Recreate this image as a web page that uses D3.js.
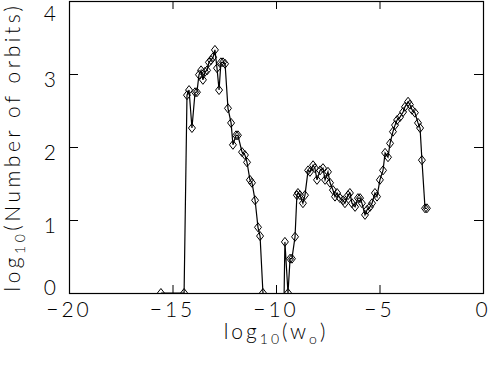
<!DOCTYPE html>
<html>
<head>
<meta charset="utf-8">
<script src="https://cdn.jsdelivr.net/npm/d3@7"></script>
<style>
body { margin: 0; background: #fff; }
text { font-family: Lato, "Liberation Sans", sans-serif; font-weight: 300; fill: #000; }
</style>
</head>
<body>
<svg id="chart" width="491" height="366"></svg>
<script>
// log10(w_o) bin positions
const logW = [-15.56, -14.44, -14.30, -14.20, -14.06, -13.91, -13.82, -13.72, -13.62, -13.53,
  -13.43, -13.33, -13.24, -13.14, -13.04, -12.95, -12.85, -12.75, -12.66, -12.56,
  -12.46, -12.32, -12.17, -12.08, -11.93, -11.84, -11.64, -11.50, -11.40, -11.26,
  -11.16, -11.01, -10.87, -10.77, -10.63, -9.66, -9.57, -9.42, -9.32, -9.23,
  -9.08, -8.99, -8.94, -8.84, -8.70, -8.60, -8.45, -8.36, -8.21, -8.12,
  -8.02, -7.87, -7.73, -7.63, -7.49, -7.39, -7.25, -7.15, -7.05, -6.91,
  -6.76, -6.67, -6.52, -6.43, -6.33, -6.18, -6.04, -5.94, -5.85, -5.70,
  -5.60, -5.46, -5.36, -5.22, -5.12, -4.98, -4.83, -4.73, -4.59, -4.49,
  -4.35, -4.25, -4.15, -4.01, -3.86, -3.77, -3.62, -3.53, -3.43, -3.29,
  -3.14, -3.04, -2.95, -2.80, -2.71]

// log10(number of orbits); null = empty bin (log of zero)
const logN = [0, 0, 2.71, 2.78, 2.26, 2.75, 2.75, 2.99, 3.05, 2.92,
  3.03, 3.05, 3.16, 3.19, 3.23, 3.33, 3.08, 2.78, 3.16, 3.16,
  3.14, 2.53, 2.33, 2.03, 2.16, 2.16, 1.93, 1.89, 1.79, 1.55,
  1.51, 1.27, 0.90, 0.78, 0, null, 0.70, 0, 0.47, 0.47,
  0.77, 1.34, 1.37, 1.34, 1.23, 1.34, 1.68, 1.66, 1.75, 1.71,
  1.55, 1.68, 1.71, 1.55, 1.66, 1.51, 1.41, 1.32, 1.37, 1.30,
  1.27, 1.23, 1.34, 1.37, 1.23, 1.18, 1.30, 1.30, 1.23, 1.07,
  1.14, 1.18, 1.23, 1.37, 1.32, 1.55, 1.68, 1.92, 1.86, 2.05,
  2.21, 2.30, 2.37, 2.41, 2.48, 2.55, 2.62, 2.58, 2.51, 2.47,
  2.33, 2.26, 1.82, 1.16, 1.16]

const xTicks = [-20, -15, -10, -5, 0]
const yTicks = [0, 1, 2, 3, 4]

let svg = d3.select("#chart")
let plot = { left: 69, right: 483, top: 1, bottom: 293 }

let x = d3.scaleLinear().domain([-20, 0]).range([plot.left, plot.right])
let y = d3.scaleLinear().domain([0, 4]).range([plot.bottom, plot.top])

let points = logW.map((w, i) => ({ w: w, n: logN[i] }))

svg.append("defs").append("clipPath")
    .attr("id", "clip")
  .append("rect")
    .attr("x", plot.left)
    .attr("y", plot.top)
    .attr("width", plot.right - plot.left)
    .attr("height", plot.bottom - plot.top)

let fmt = d => d3.format("d")(d)

// bottom / top axes
let gx = svg.append("g").attr("transform", "translate(0," + plot.bottom + ")")
gx.call(d3.axisBottom(x).tickValues(d3.range(-20, 1)).tickSize(-4).tickFormat(""))
gx.call(d3.axisBottom(x).tickValues(xTicks).tickSize(-8).tickFormat(""))
let gxt = svg.append("g").attr("transform", "translate(0," + plot.top + ")")
gxt.call(d3.axisTop(x).tickValues(d3.range(-20, 1)).tickSize(-4).tickFormat(""))
gxt.call(d3.axisTop(x).tickValues(xTicks).tickSize(-8).tickFormat(""))

// left / right axes
let gy = svg.append("g").attr("transform", "translate(" + plot.left + ",0)")
gy.call(d3.axisLeft(y).tickValues(d3.range(0, 40.5).map(d => d / 10)).tickSize(-5).tickFormat(""))
gy.call(d3.axisLeft(y).tickValues(yTicks).tickSize(-9).tickFormat(""))
let gyr = svg.append("g").attr("transform", "translate(" + plot.right + ",0)")
gyr.call(d3.axisRight(y).tickValues(d3.range(0, 40.5).map(d => d / 10)).tickSize(-5).tickFormat(""))
gyr.call(d3.axisRight(y).tickValues(yTicks).tickSize(-9).tickFormat(""))

svg.selectAll(".domain").remove()
svg.selectAll(".tick line").attr("stroke", "#000").attr("stroke-width", 1)

svg.append("rect")
    .attr("x", plot.left + 0.5)
    .attr("y", plot.top + 0.5)
    .attr("width", plot.right - plot.left)
    .attr("height", plot.bottom - plot.top)
    .attr("fill", "none")
    .attr("stroke", "#000")
    .attr("stroke-width", 1.2)

// tick labels
svg.append("g").selectAll("text")
    .data(xTicks)
    .enter().append("text")
    .attr("x", d => x(d))
    .attr("y", 317)
    .attr("text-anchor", "middle")
    .style("font-size", "21px")
    .style("letter-spacing", "3px")
    .text(fmt)

svg.append("g").selectAll("text")
    .data(yTicks)
    .enter().append("text")
    .attr("x", 56)
    .attr("y", d => Math.min(Math.max(y(d) + 5, 13), 287))
    .attr("dy", "0.36em")
    .attr("text-anchor", "end")
    .style("font-size", "21px")
    .text(fmt)

// axis titles
let xt = svg.append("text")
    .attr("x", x(-10))
    .attr("y", 339)
    .attr("text-anchor", "middle")
    .style("font-size", "21px")
    .style("letter-spacing", "3px")
xt.append("tspan").text("log")
xt.append("tspan").attr("dy", 5).style("font-size", "14px").text("10")
xt.append("tspan").attr("dy", -5).text("(w")
xt.append("tspan").attr("dy", 5).style("font-size", "14px").text("o")
xt.append("tspan").attr("dy", -5).text(")")

let yt = svg.append("text")
    .attr("transform", "translate(20," + ((plot.top + plot.bottom) / 2) + ") rotate(-90)")
    .attr("text-anchor", "middle")
    .style("font-size", "21px")
    .style("letter-spacing", "3.5px")
yt.append("tspan").text("log")
yt.append("tspan").attr("dy", 5).style("font-size", "14px").text("10")
yt.append("tspan").attr("dy", -5).text("(Number of orbits)")

// data line, empty bins drop below the axis and get clipped
let below = -1
let line = d3.line()
    .x(d => x(d.w))
    .y(d => y(d.n === null ? below : d.n))

let g = svg.append("g").attr("clip-path", "url(#clip)")

g.append("path")
    .datum(points)
    .attr("d", line)
    .attr("fill", "none")
    .attr("stroke", "#000")
    .attr("stroke-width", 1.2)

let diamond = "M0,-4.5L3.5,0L0,4.5L-3.5,0Z"
g.selectAll(".pt")
    .data(points.filter(d => d.n !== null))
    .enter().append("path")
    .attr("class", "pt")
    .attr("transform", d => "translate(" + x(d.w) + "," + y(d.n) + ")")
    .attr("d", diamond)
    .attr("fill", "none")
    .attr("stroke", "#000")
    .attr("stroke-width", 1)
</script>
</body>
</html>
